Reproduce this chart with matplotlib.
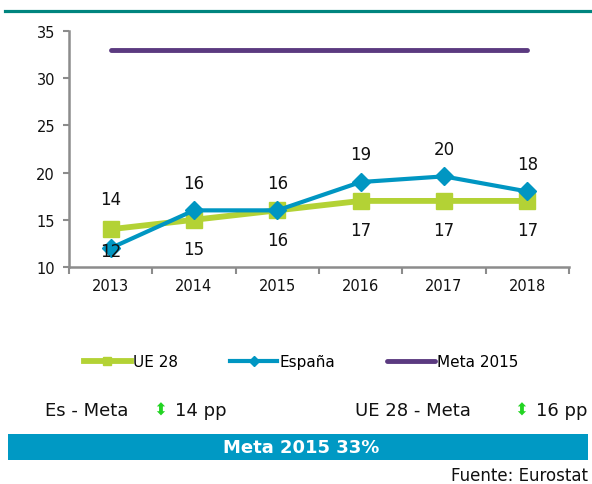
import matplotlib
matplotlib.use("Agg")
import matplotlib.pyplot as plt
from matplotlib.lines import Line2D
from matplotlib.patches import Rectangle


# ── Data ───────────────────────────────────────────────────────────────────────

years   = ["2013", "2014", "2015", "2016", "2017", "2018"]
ue28    = [14, 15, 16, 17, 17, 17]
espana  = [12, 16, 16, 19, 19.6, 18]
meta    = [33, 33, 33, 33, 33, 33]

yticks  = [10, 15, 20, 25, 30, 35]

# label offsets (points): UE 28 mostly below, España mostly above
ue_offsets = [22, -21, -21, -21, -21, -21]
es_offsets = [-2, 20, 20, 20, 20, 20]

C_UE    = "#B3D235"
C_ES    = "#0096C2"
C_META  = "#5B3A80"
C_TEAL  = "#00857F"
C_BAR   = "#0099C4"
C_ARROW = "#22D422"
C_AXIS  = "#8C8C8C"

plt.rcParams["font.family"] = ["DejaVu Sans"]


# ── Figure ─────────────────────────────────────────────────────────────────────

fig = plt.figure(figsize=(5.92, 4.85), dpi=100)
ax  = fig.add_axes([69 / 592, 1 - 268 / 485, 500 / 592, 236 / 485])

x = list(range(len(years)))

ax.plot(x, meta, color=C_META, linewidth=3.5, solid_capstyle="round",
        label="Meta 2015", zorder=2)
ax.plot(x, ue28, color=C_UE, linewidth=4.2, marker="s", markersize=11.5,
        label="UE 28", zorder=3)
ax.plot(x, espana, color=C_ES, linewidth=3.0, marker="D", markersize=9,
        label="España", zorder=4)

for xi, v, dy in zip(x, ue28, ue_offsets):
    ax.annotate(f"{v:.0f}", (xi, v), xytext=(0, dy), textcoords="offset points",
                ha="center", va="center", fontsize=12, color="#111111", zorder=5)
for xi, v, dy in zip(x, espana, es_offsets):
    ax.annotate(f"{v:.0f}", (xi, v), xytext=(0, dy), textcoords="offset points",
                ha="center", va="center", fontsize=12, color="#111111", zorder=5)

# axes
ax.set_xlim(-0.5, len(years) - 0.5)
ax.set_ylim(10, 35)
ax.set_yticks(yticks)
ax.set_xticks([i - 0.5 for i in range(len(years) + 1)])
ax.set_xticklabels([])
ax.set_xticks(x, minor=True)
ax.set_xticklabels(years, minor=True)
ax.tick_params(axis="x", which="minor", length=0, pad=8, labelsize=10.5,
               labelcolor="#111111")
ax.tick_params(axis="x", which="major", length=5, width=1.5, color=C_AXIS,
               direction="out")
ax.tick_params(axis="y", length=4, width=1.5, color=C_AXIS, direction="out",
               labelsize=10.5, labelcolor="#111111", pad=6)
for side in ["top", "right"]:
    ax.spines[side].set_visible(False)
for side in ["left", "bottom"]:
    ax.spines[side].set_color(C_AXIS)
    ax.spines[side].set_linewidth(1.8)

# legend
handles, labels = ax.get_legend_handles_labels()
order = [1, 2, 0]
fig.legend([handles[i] for i in order], [labels[i] for i in order],
           loc="center", bbox_to_anchor=(301 / 592, 1 - 363 / 485), ncol=3,
           frameon=False, handlelength=3.1, handletextpad=0.15,
           columnspacing=3.4, fontsize=11, markerscale=0.55)


# ── Header line, summary, banner, source ───────────────────────────────────────

fig.add_artist(Line2D([5 / 592, 1], [1 - 11.5 / 485] * 2, color=C_TEAL,
                      linewidth=2.3))

y_sum = 1 - 411 / 485
fig.text(45 / 592, y_sum, "Es - Meta", fontsize=13, va="center", color="#111111")
fig.text(160 / 592, y_sum, "⬍", fontsize=12, va="center", ha="center",
         color=C_ARROW, family=["DejaVu Sans", "Noto Sans"])
fig.text(175 / 592, y_sum, "14 pp", fontsize=13, va="center", color="#111111")
fig.text(355 / 592, y_sum, "UE 28 - Meta", fontsize=13, va="center", color="#111111")
fig.text(521 / 592, y_sum, "⬍", fontsize=12, va="center", ha="center",
         color=C_ARROW, family=["DejaVu Sans", "Noto Sans"])
fig.text(536 / 592, y_sum, "16 pp", fontsize=13, va="center", color="#111111")

fig.add_artist(Rectangle((8 / 592, 1 - 461 / 485), 580 / 592, 26 / 485,
                         transform=fig.transFigure, facecolor=C_BAR,
                         edgecolor="none"))
fig.text(301 / 592, 1 - 448 / 485, "Meta 2015 33%", fontsize=13,
         fontweight="bold", color="white", ha="center", va="center")

fig.text(588 / 592, 1 - 476 / 485, "Fuente: Eurostat", fontsize=12,
         ha="right", va="center", color="#111111")

fig.savefig("out.png", dpi=100)
plt.close(fig)
